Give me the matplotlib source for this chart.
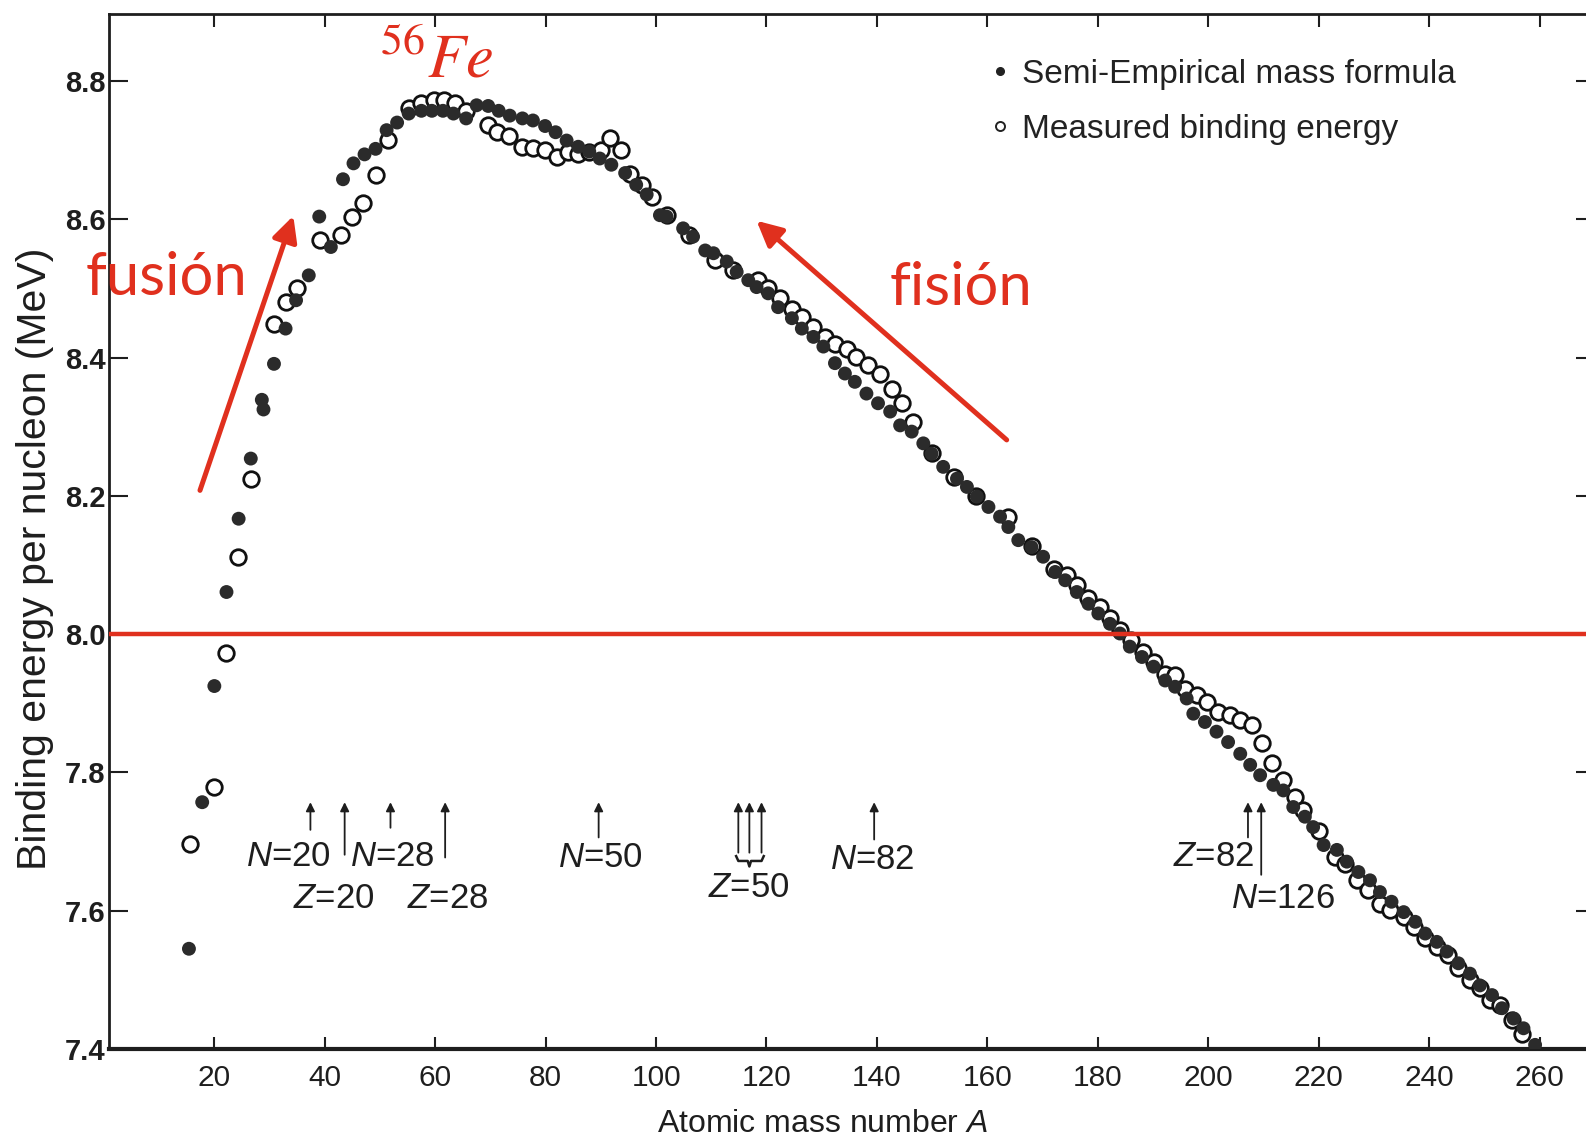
import numpy as np
import matplotlib
matplotlib.use('Agg')
import matplotlib.pyplot as plt
from matplotlib.lines import Line2D

# semi-empirical mass formula (filled dots)
semi_A = [15.4, 17.8, 20.0, 22.2, 24.4, 26.6, 28.6, 28.9, 30.8, 32.9, 34.8, 37.1, 39.0, 41.1,
          43.3, 45.2, 47.2, 49.2, 51.2, 53.1, 55.2, 57.5, 59.4, 61.4, 63.3, 65.6, 67.5, 69.6,
          71.5, 73.5, 75.8, 77.7, 79.9, 81.8, 83.8, 85.9, 87.9, 89.8, 91.9, 94.4, 96.4, 98.3,
          100.7, 101.9, 104.9, 106.7, 108.9, 110.4, 112.8, 114.6, 116.7, 118.2, 120.3, 122.1,
          124.6, 126.4, 128.5, 130.3, 132.4, 134.2, 136.0, 138.1, 140.2, 142.4, 144.2, 146.3,
          148.4, 149.9, 152.0, 154.5, 156.3, 158.1, 160.2, 162.3, 163.8, 165.6, 168.0, 170.1,
          172.3, 174.1, 176.2, 178.3, 180.1, 182.2, 184.0, 185.8, 188.0, 190.1, 192.2, 194.0,
          196.1, 197.3, 199.4, 201.5, 203.6, 205.8, 207.6, 209.4, 211.8, 213.6, 215.4, 217.5,
          219.0, 220.9, 223.3, 225.1, 227.2, 229.3, 231.1, 233.2, 235.4, 237.5, 239.3, 241.4,
          243.2, 245.3, 247.4, 249.2, 251.4, 253.2, 255.3, 257.1, 259.2]
semi_B = [7.545, 7.757, 7.925, 8.061, 8.167, 8.254, 8.339, 8.325, 8.391, 8.442, 8.483, 8.519,
          8.604, 8.560, 8.658, 8.681, 8.694, 8.702, 8.729, 8.740, 8.753, 8.757, 8.757, 8.757,
          8.753, 8.746, 8.765, 8.764, 8.757, 8.750, 8.746, 8.743, 8.735, 8.726, 8.714, 8.705,
          8.698, 8.688, 8.679, 8.667, 8.650, 8.636, 8.606, 8.604, 8.587, 8.575, 8.555, 8.551,
          8.539, 8.524, 8.512, 8.502, 8.493, 8.473, 8.457, 8.442, 8.430, 8.416, 8.392, 8.377,
          8.365, 8.348, 8.334, 8.322, 8.302, 8.293, 8.276, 8.261, 8.242, 8.225, 8.213, 8.199,
          8.184, 8.170, 8.155, 8.136, 8.126, 8.112, 8.090, 8.078, 8.061, 8.044, 8.030, 8.015,
          8.001, 7.982, 7.967, 7.953, 7.933, 7.924, 7.907, 7.885, 7.873, 7.859, 7.844, 7.827,
          7.811, 7.796, 7.782, 7.774, 7.750, 7.736, 7.721, 7.695, 7.688, 7.671, 7.656, 7.644,
          7.627, 7.613, 7.598, 7.584, 7.567, 7.555, 7.541, 7.524, 7.509, 7.492, 7.478, 7.459,
          7.444, 7.430, 7.406]

# measured binding energy (open circles)
meas_A = [15.6, 20.0, 22.2, 24.2, 26.6, 30.8, 32.9, 34.9, 39.1, 42.9, 45.0, 47.0, 49.2, 51.4,
          55.3, 57.5, 59.8, 61.6, 63.6, 65.6, 69.6, 71.2, 73.3, 75.8, 77.7, 79.8, 82.0, 84.0,
          85.9, 87.9, 90.0, 91.6, 93.6, 95.3, 97.4, 99.2, 102.0, 106.0, 110.7, 114.0, 118.5,
          120.3, 122.4, 124.6, 126.4, 128.5, 130.6, 132.4, 134.5, 136.3, 138.4, 140.6, 142.7,
          144.5, 146.6, 150.0, 154.0, 158.0, 163.8, 168.0, 172.0, 174.4, 176.2, 178.3, 180.4,
          182.2, 184.0, 186.1, 188.2, 190.1, 192.2, 194.0, 195.8, 197.9, 199.7, 201.8, 203.9,
          205.8, 207.9, 209.7, 211.5, 213.6, 215.8, 217.2, 220.0, 223.0, 224.8, 226.9, 229.0,
          231.1, 232.9, 235.4, 237.2, 239.3, 241.4, 243.5, 245.3, 247.4, 249.2, 251.0, 252.9,
          255.0, 256.8]
meas_B = [7.696, 7.779, 7.973, 8.112, 8.224, 8.449, 8.481, 8.500, 8.570, 8.577, 8.604, 8.623,
          8.664, 8.715, 8.761, 8.768, 8.773, 8.773, 8.768, 8.757, 8.737, 8.727, 8.720, 8.705,
          8.703, 8.700, 8.690, 8.698, 8.695, 8.698, 8.701, 8.718, 8.700, 8.666, 8.649, 8.633,
          8.607, 8.578, 8.541, 8.527, 8.512, 8.500, 8.486, 8.471, 8.459, 8.445, 8.430, 8.420,
          8.413, 8.401, 8.389, 8.377, 8.355, 8.334, 8.307, 8.262, 8.228, 8.200, 8.170, 8.128,
          8.094, 8.086, 8.071, 8.052, 8.040, 8.023, 8.006, 7.991, 7.974, 7.960, 7.943, 7.941,
          7.921, 7.912, 7.902, 7.888, 7.883, 7.876, 7.868, 7.842, 7.813, 7.789, 7.765, 7.745,
          7.715, 7.678, 7.668, 7.644, 7.630, 7.610, 7.601, 7.591, 7.577, 7.560, 7.548, 7.536,
          7.517, 7.500, 7.488, 7.471, 7.463, 7.442, 7.422]

# magic numbers: (label, label x, label y, arrow x, arrow tail y)
magic = [('$N$=20', 33.4, 7.678, 37.4, 7.717),
         ('$Z$=20', 41.6, 7.618, 43.6, 7.681),
         ('$N$=28', 52.2, 7.678, 51.9, 7.720),
         ('$Z$=28', 62.3, 7.618, 61.8, 7.677),
         ('$N$=50', 90.0, 7.677, 89.6, 7.706),
         ('$N$=82', 139.1, 7.674, 139.5, 7.703),
         ('$Z$=82', 201.0, 7.678, 207.2, 7.706),
         ('$N$=126', 213.5, 7.618, 209.6, 7.652)]
z50_x = [114.9, 116.9, 119.1]
arrow_head_y = 7.757

red = '#e0301e'
ink = '#1e1e1e'
sans = ['Liberation Sans', 'DejaVu Sans']

plt.rcParams['font.family'] = sans
plt.rcParams['mathtext.fontset'] = 'custom'
plt.rcParams['mathtext.it'] = 'Liberation Sans:italic'
plt.rcParams['mathtext.rm'] = 'Liberation Sans'

fig = plt.figure(figsize=(15.86, 11.39), dpi=100)
ax = fig.add_axes([0.0690, 0.0790, 0.9365, 0.9087])

ax.scatter(meas_A, meas_B, s=125, facecolor='white', edgecolor='#111111', linewidth=2.0, zorder=3)
ax.scatter(semi_A, semi_B, s=100, color='#2b2b2b', edgecolor='none', zorder=4)

ax.axhline(8.0, color=red, lw=3.2, zorder=5)

# magic number markers
for lab, tx, ty, axx, ay in magic:
    ax.annotate('', xy=(axx, arrow_head_y), xytext=(axx, ay),
                arrowprops=dict(arrowstyle='-|>', lw=1.3, color=ink, mutation_scale=13,
                                shrinkA=0, shrinkB=0))
    ax.text(tx, ty, lab, fontsize=25, color=ink, ha='center', va='center')
for zx in z50_x:
    ax.annotate('', xy=(zx, arrow_head_y), xytext=(zx, 7.684),
                arrowprops=dict(arrowstyle='-|>', lw=1.3, color=ink, mutation_scale=13,
                                shrinkA=0, shrinkB=0))
bx = [z50_x[0] - 0.4, z50_x[0], z50_x[1] - 0.3, z50_x[1], z50_x[1] + 0.3, z50_x[-1], z50_x[-1] + 0.4]
by = [7.679, 7.672, 7.672, 7.664, 7.672, 7.672, 7.679]
ax.plot(bx, by, color=ink, lw=1.8)
ax.text(116.7, 7.634, '$Z$=50', fontsize=25, color=ink, ha='center', va='center')

# red annotations
ax.annotate('', xy=(34.3, 8.605), xytext=(17.4, 8.208),
            arrowprops=dict(arrowstyle='-|>', lw=3.6, color=red, mutation_scale=38,
                            shrinkA=0, shrinkB=0), zorder=6)
ax.annotate('', xy=(118.2, 8.598), xytext=(163.5, 8.281),
            arrowprops=dict(arrowstyle='-|>', lw=3.6, color=red, mutation_scale=38,
                            shrinkA=0, shrinkB=0), zorder=6)
ax.text(11.4, 8.515, 'fusión', fontsize=43, family=['Lato', 'DejaVu Sans'], color=red,
        ha='center', va='center')
ax.text(155.2, 8.500, 'fisión', fontsize=43, family=['Lato', 'DejaVu Sans'], color=red,
        ha='center', va='center')
ax.text(60.3, 8.829, r'$^{56}\mathit{Fe}$', fontsize=45, math_fontfamily='stix', color=red,
        ha='center', va='center')

# legend
handles = [Line2D([], [], ls='none', marker='o', ms=5.5, color='#222222'),
           Line2D([], [], ls='none', marker='o', ms=6.5, mfc='white', mec='#222222', mew=1.4)]
ax.legend(handles, ['Semi-Empirical mass formula', 'Measured binding energy'],
          loc='upper left', bbox_to_anchor=(0.6140, 0.963), bbox_transform=fig.transFigure,
          frameon=False, fontsize=24, handlelength=0.6, handletextpad=0.35,
          labelspacing=0.73, borderpad=0, labelcolor='#222222')

ax.set_xlim(1, 270)
ax.set_ylim(7.4, 8.897)
ax.set_xticks(np.arange(20, 261, 20))
ax.set_yticks(np.arange(7.4, 8.81, 0.2))
ax.set_yticklabels(['%.1f' % v for v in np.arange(7.4, 8.81, 0.2)])
ax.tick_params(axis='x', direction='in', length=9, width=1.5, labelsize=21.5, pad=11,
               top=True, colors=ink)
ax.tick_params(axis='y', direction='in', length=14, width=1.5, labelsize=21, pad=3,
               right=True, colors=ink)
for lbl in ax.get_yticklabels():
    lbl.set_fontweight('bold')
for side in ['left', 'top']:
    ax.spines[side].set_linewidth(2)
ax.spines['bottom'].set_linewidth(3)
for sp in ax.spines.values():
    sp.set_color(ink)

ax.set_xlabel('Atomic mass number $A$', fontsize=23, color=ink)
ax.xaxis.set_label_coords(0.480, -0.058)
ax.set_ylabel('Binding energy per nucleon (MeV)', fontsize=29.5, color=ink)
ax.yaxis.set_label_coords(-0.037, 0.474)

fig.savefig('out.png', dpi=100)
